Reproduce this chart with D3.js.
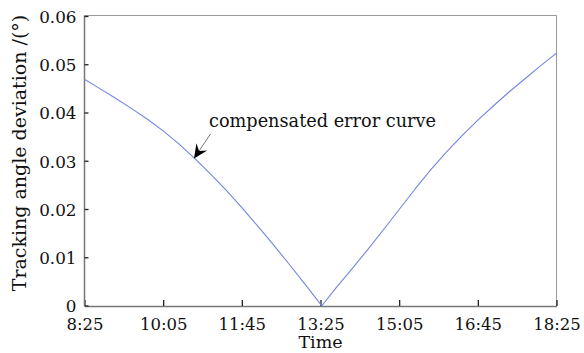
<!DOCTYPE html>
<html>
<head>
<meta charset="utf-8">
<script src="https://cdn.jsdelivr.net/npm/d3@7"></script>
<style>
  html, body { margin: 0; padding: 0; background: #fff; }
  svg { display: block; }
  text { font-family: "DejaVu Serif", "Liberation Serif", serif; fill: #111; }
</style>
</head>
<body>
<svg id="chart" width="584" height="353"></svg>
<script>
// ---- data (minutes after 8:25, deviation in degrees) ----
const minutes = [0, 20, 40, 60, 80, 100, 120, 140, 160, 180, 200, 220, 240, 260, 280, 300, 302,
                 320, 340, 360, 380, 400, 420, 440, 460, 480, 500, 520, 540, 560, 580, 600];
const deviation = [0.0469, 0.0449, 0.0429, 0.0408, 0.0386, 0.0362, 0.0335, 0.0305, 0.0273, 0.0239,
                   0.0203, 0.0165, 0.0126, 0.0086, 0.0045, 0.0003, 0.0000,
                   0.0037, 0.0076, 0.0116, 0.0157, 0.0199, 0.0241, 0.0281, 0.0318, 0.0352,
                   0.0384, 0.0414, 0.0443, 0.0470, 0.0497, 0.0523];
const xTickValues = [0, 100, 200, 300, 400, 500, 600];
const xTickLabels = ["8:25", "10:05", "11:45", "13:25", "15:05", "16:45", "18:25"];
const yTickValues = [0, 0.01, 0.02, 0.03, 0.04, 0.05, 0.06];
const yTickLabels = ["0", "0.01", "0.02", "0.03", "0.04", "0.05", "0.06"];
const annotationText = "compensated error curve";
const xTitle = "Time";
const yTitle = "Tracking angle deviation /(°)";

(function () {
// ---- layout ----
const mLeft = 84.5, mRight = 556.5, mTop = 15.5, mBottom = 306;
const svg = d3.select("#chart");

const x = d3.scaleLinear().domain([0, 600]).range([mLeft, mRight]);
const y = d3.scaleLinear().domain([0, 0.06]).range([305.5, 16]);

// frame
svg.append("line").attr("x1", mLeft).attr("x2", mRight).attr("y1", mTop).attr("y2", mTop)
  .attr("stroke", "#999").attr("stroke-width", 1);
svg.append("line").attr("x1", mRight).attr("x2", mRight).attr("y1", mTop).attr("y2", mBottom)
  .attr("stroke", "#999").attr("stroke-width", 1);

// bottom axis (ticks inward)
const xAxis = d3.axisBottom(x).tickValues(xTickValues)
  .tickFormat((d, i) => xTickLabels[i]).tickSizeInner(-6).tickSizeOuter(0).tickPadding(12);
const gx = svg.append("g").attr("transform", `translate(0,${mBottom})`).call(xAxis);
gx.select(".domain").attr("stroke", "#777").attr("stroke-width", 1.5);
gx.selectAll(".tick line").attr("stroke", "#222").attr("stroke-width", 1.3);
gx.selectAll(".tick text").attr("font-size", 16.5).attr("fill", "#111")
  .attr("font-family", "DejaVu Serif, serif");

// left axis (ticks inward)
const yAxis = d3.axisLeft(y).tickValues(yTickValues)
  .tickFormat((d, i) => yTickLabels[i]).tickSizeInner(-4).tickSizeOuter(0).tickPadding(8);
const gy = svg.append("g").attr("transform", `translate(${mLeft},0)`).call(yAxis);
gy.select(".domain").attr("stroke", "#777").attr("stroke-width", 1.5)
  .attr("d", `M0,${mTop}V${mBottom}`);
gy.selectAll(".tick line").attr("stroke", "#222").attr("stroke-width", 1.3);
gy.selectAll(".tick text").attr("font-size", 16.8).attr("fill", "#111")
  .attr("font-family", "DejaVu Serif, serif").attr("dy", "0.38em");

// curve
const line = d3.line().x((d, i) => x(minutes[i])).y(d => y(d));
svg.append("path").datum(deviation).attr("d", line)
  .attr("fill", "none").attr("stroke", "#7585e0").attr("stroke-width", 1.1)
  .attr("stroke-linejoin", "round");

// titles
svg.append("text").attr("x", 320.5).attr("y", 348)
  .attr("text-anchor", "middle").attr("font-size", 17.5).text(xTitle);
svg.append("text").attr("transform", `translate(25.5,${153}) rotate(-90)`)
  .attr("text-anchor", "middle").attr("font-size", 19).text(yTitle);

// annotation
svg.append("text").attr("x", 209).attr("y", 127).attr("font-size", 17.7).text(annotationText);

const ax0 = 210.5, ay0 = 134, ax1 = 194, ay1 = 158.5;
const dx = ax1 - ax0, dy = ay1 - ay0, len = Math.hypot(dx, dy);
const ux = dx / len, uy = dy / len, px = -uy, py = ux;
const L = 14, W = 6.5, N = 5;
svg.append("line").attr("x1", ax0).attr("y1", ay0)
  .attr("x2", ax1 - ux * N).attr("y2", ay1 - uy * N)
  .attr("stroke", "#555").attr("stroke-width", 0.8);
const bx = ax1 - ux * L, by = ay1 - uy * L;
const head = [
  [ax1, ay1],
  [bx + px * W, by + py * W],
  [ax1 - ux * (L - N), ay1 - uy * (L - N)],
  [bx - px * W, by - py * W]
];
svg.append("path").attr("d", "M" + head.map(p => p.join(",")).join("L") + "Z").attr("fill", "#000");
})();
</script>
</body>
</html>
